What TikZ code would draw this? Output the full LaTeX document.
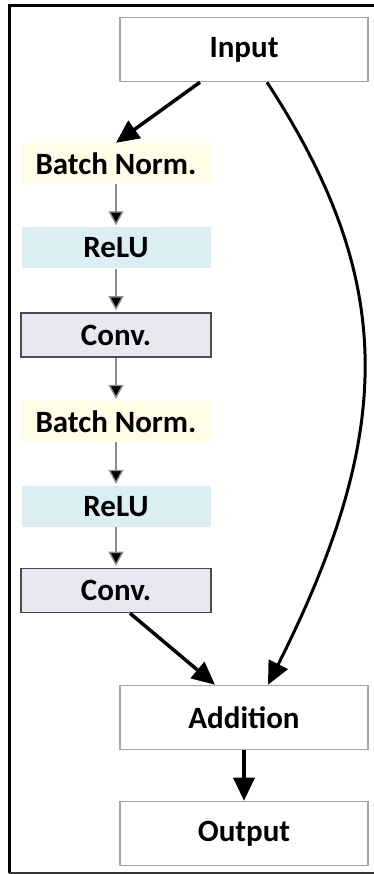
\documentclass[tikz,border=0pt]{standalone}
\usepackage{fontspec}
\setmainfont{Carlito}
\usetikzlibrary{arrows.meta}
\definecolor{normfill}{HTML}{FFFDE6}
\definecolor{relufill}{HTML}{DBEEF3}
\definecolor{convfill}{HTML}{E9E7F0}
\begin{document}
\begin{tikzpicture}[x=1pt,y=1pt,
		every node/.style={font=\fontsize{31}{36}\selectfont\bfseries, inner sep=0pt},
		outbox/.style={draw=black!35, line width=1.5pt, minimum width=248pt, minimum height=64pt},
		normbox/.style={fill=normfill, minimum width=189pt, minimum height=41pt},
		relubox/.style={fill=relufill, minimum width=189pt, minimum height=41pt},
		convbox/.style={draw=black!70, line width=1.5pt, fill=convfill, minimum width=190pt, minimum height=44pt},
		thin arrow/.style={draw=black!45, line width=1.4pt, -{Triangle[width=15pt,length=14pt,fill=black]}, shorten >=2pt},
		thick arrow/.style={line width=3.5pt, -{Triangle[width=21pt,length=23pt]}}]
		\useasboundingbox (0,0) rectangle (374,874);
		% frame, open on the right
		\draw[line width=3pt] (374,868) -- (9,868) -- (9,1);
		\draw[line width=2pt, black!80] (9,1) -- (374,1);
		
		\node[outbox]  (input)  at (244,824.5) {Input};
		\node[normbox] (bn1)    at (116,710.5) {Batch Norm.};
		\node[relubox] (relu1)  at (116,626)   {ReLU};
		\node[convbox] (conv1)  at (116,539)   {Conv.};
		\node[normbox] (bn2)    at (116,452.5) {Batch Norm.};
		\node[relubox] (relu2)  at (116,367.5) {ReLU};
		\node[convbox] (conv2)  at (116,283.5) {Conv.};
		\node[outbox]  (add)    at (244,156.5) {Addition};
		\node[outbox]  (output) at (244,40.5)  {Output};
		
		\draw[thick arrow] ([xshift=-44pt]input.south) -- (bn1.north);
		\draw[thin arrow] (bn1) -- (relu1);
		\draw[thin arrow] (relu1) -- (conv1);
		\draw[thin arrow] (conv1) -- (bn2);
		\draw[thin arrow] (bn2) -- (relu2);
		\draw[thin arrow] (relu2) -- (conv2);
		\draw[thick arrow] ([xshift=14pt]conv2.south) -- ([xshift=-29pt]add.north);
		% skip connection
		\draw[line width=3pt, -{Triangle[width=21pt,length=23pt]}] ([xshift=23pt]input.south)
		.. controls (396,594) and (396,444) .. ([xshift=24pt]add.north);
		\draw[thick arrow] (add) -- (output);
\end{tikzpicture}
\end{document}
